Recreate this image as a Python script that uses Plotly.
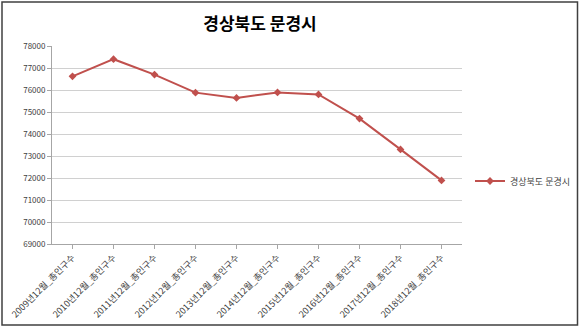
import plotly.graph_objects as go

categories = ["2009년12월_총인구수", "2010년12월_총인구수", "2011년12월_총인구수",
              "2012년12월_총인구수", "2013년12월_총인구수", "2014년12월_총인구수",
              "2015년12월_총인구수", "2016년12월_총인구수", "2017년12월_총인구수",
              "2018년12월_총인구수"]
values = [76620, 77400, 76700, 75880, 75640, 75890, 75800, 74700, 73300, 71890]
series_name = "경상북도 문경시"
title_text = "경상북도 문경시"
y_ticks = list(range(69000, 78001, 1000))
y_ticktext = [str(v) for v in y_ticks]

W, H = 580, 327
L, R, T, B = 52, 118, 46, 83
pw, ph = W - L - R, H - T - B

def px_x(x):
    return (x - L) / pw

def px_y(y):
    return (H - B - y) / ph

fig = go.Figure()
fig.add_trace(go.Scatter(
    x=categories, y=values, name=series_name, mode="lines+markers",
    line=dict(color="#C0504D", width=2),
    marker=dict(symbol="diamond", size=6, color="#C0504D"),
))

fig.update_layout(
    width=W, height=H,
    margin=dict(l=L, r=R, t=T, b=B, autoexpand=False),
    paper_bgcolor="white", plot_bgcolor="white",
    font=dict(family="Noto Sans CJK KR, DejaVu Sans", size=8, color="#595959"),
    title=dict(text="<b>" + title_text + "</b>", x=260 / W, xref="container", xanchor="center",
               y=1 - 24 / H, yref="container", yanchor="middle",
               font=dict(size=17, color="#000000", family="Noto Sans CJK KR")),
    showlegend=True,
    legend=dict(x=px_x(470), xanchor="left", y=px_y(181), yanchor="middle",
                font=dict(size=9, color="#404040"), bgcolor="rgba(0,0,0,0)",
                itemwidth=30),
    xaxis=dict(type="category", tickangle=-45, showgrid=False, automargin=False,
               showline=True, linecolor="#A6A6A6", linewidth=1,
               ticks="outside", ticklen=4, tickcolor="#A6A6A6",
               tickfont=dict(size=9, color="#404040"), range=[-0.5, 9.5]),
    yaxis=dict(range=[69000, 78000], tickvals=y_ticks, ticktext=y_ticktext, showgrid=True,
               automargin=False, gridcolor="#D0D0D0", gridwidth=1,
               showline=True, linecolor="#A6A6A6", linewidth=1,
               ticks="outside", ticklen=4, tickcolor="#A6A6A6",
               tickfont=dict(size=8, color="#404040"), zeroline=False),
)

fig.add_shape(type="rect", xref="paper", yref="paper",
              x0=px_x(2), x1=px_x(577.5), y0=px_y(325), y1=px_y(2),
              line=dict(color="#404040", width=1.5), fillcolor="rgba(0,0,0,0)")

fig.write_html("out.html")
